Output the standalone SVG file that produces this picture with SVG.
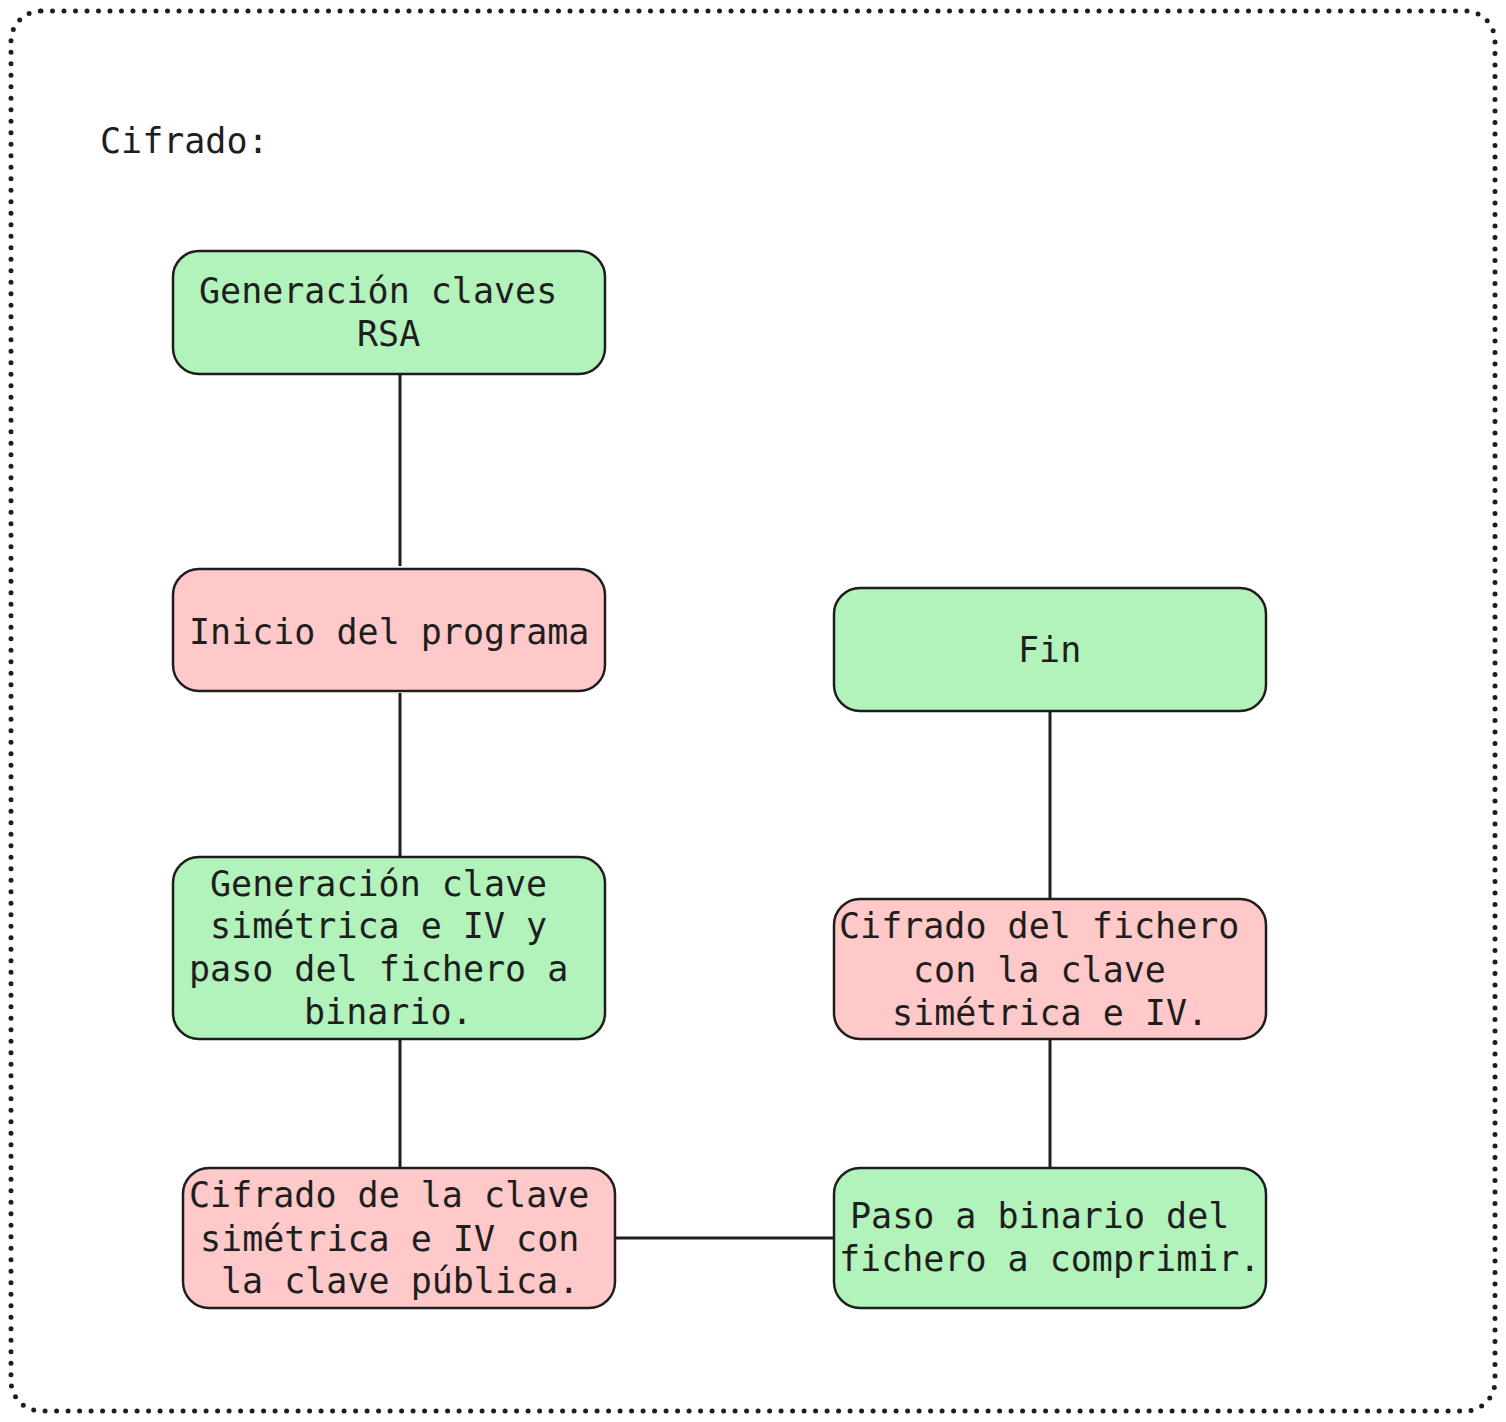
<svg xmlns="http://www.w3.org/2000/svg" width="1506" height="1422" viewBox="0 0 1506 1422">
<style>
.t{font-family:"DejaVu Sans Mono","Liberation Mono",monospace;font-size:35px;fill:#1e1e1e}
.g{fill:#b2f2bb;stroke:#1e1e1e;stroke-width:2.5}
.p{fill:#ffc9c9;stroke:#1e1e1e;stroke-width:2.5}
.c{stroke:#1e1e1e;stroke-width:3;fill:none}
</style>
<rect x="0" y="0" width="1506" height="1422" fill="#ffffff"/>
<rect x="11" y="11" width="1484" height="1400" rx="30" fill="none" stroke="#1e1e1e" stroke-width="5" stroke-linecap="round" stroke-dasharray="0 11.5"/>
<text class="t" x="100" y="153">Cifrado:</text>
<g id="connectors">
<line class="c" x1="400" y1="374" x2="400" y2="566"/>
<line class="c" x1="400" y1="693" x2="400" y2="857"/>
<line class="c" x1="400" y1="1039" x2="400" y2="1167"/>
<line class="c" x1="615" y1="1238" x2="834" y2="1238"/>
<line class="c" x1="1050" y1="1039" x2="1050" y2="1168"/>
<line class="c" x1="1050" y1="711" x2="1050" y2="899"/>
</g>
<g id="n1">
<rect class="g" x="173" y="251" width="432" height="123" rx="26"/>
<text class="t" x="199" y="303">Generación claves</text>
<text class="t" x="357" y="346">RSA</text>
</g>
<g id="n2">
<rect class="p" x="173" y="569" width="432" height="122" rx="26"/>
<text class="t" x="189" y="644">Inicio del programa</text>
</g>
<g id="n3">
<rect class="g" x="173" y="857" width="432" height="182" rx="26"/>
<text class="t" x="210" y="896">Generación clave</text>
<text class="t" x="210" y="938">simétrica e IV y</text>
<text class="t" x="189" y="981">paso del fichero a</text>
<text class="t" x="304" y="1024">binario.</text>
</g>
<g id="n4">
<rect class="p" x="183" y="1168" width="432" height="140" rx="26"/>
<text class="t" x="189" y="1207">Cifrado de la clave</text>
<text class="t" x="200" y="1251">simétrica e IV con</text>
<text class="t" x="221" y="1293">la clave pública.</text>
</g>
<g id="n5">
<rect class="g" x="834" y="1168" width="432" height="140" rx="26"/>
<text class="t" x="850" y="1228">Paso a binario del</text>
<text class="t" x="839" y="1271">fichero a comprimir.</text>
</g>
<g id="n6">
<rect class="p" x="834" y="899" width="432" height="140" rx="26"/>
<text class="t" x="839" y="938">Cifrado del fichero</text>
<text class="t" x="913" y="982">con la clave</text>
<text class="t" x="892" y="1025">simétrica e IV.</text>
</g>
<g id="n7">
<rect class="g" x="834" y="588" width="432" height="123" rx="26"/>
<text class="t" x="1018" y="662">Fin</text>
</g>
</svg>
